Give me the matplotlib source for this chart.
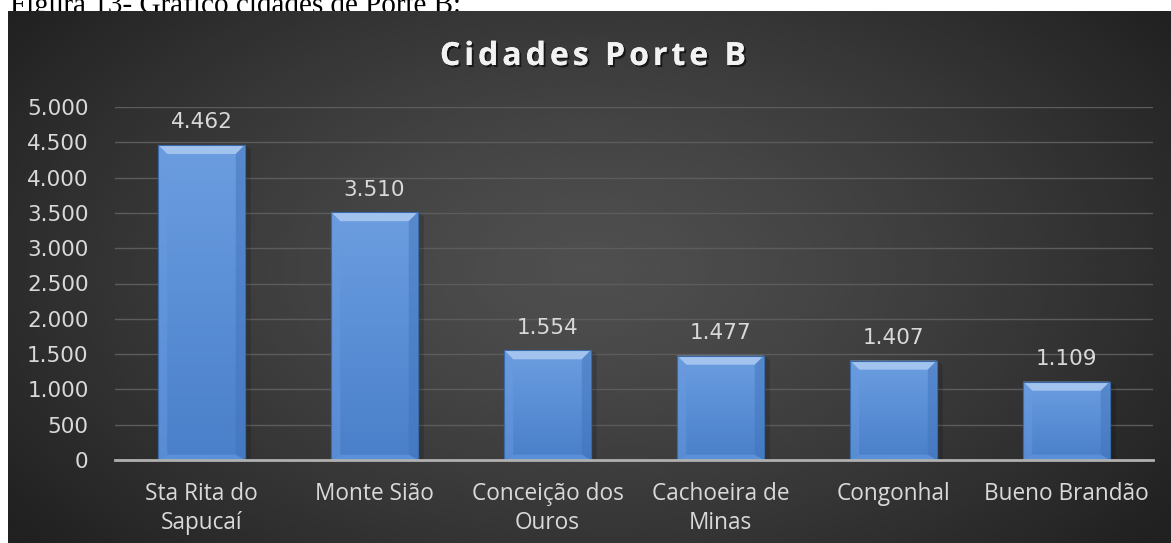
import numpy as np
import matplotlib
matplotlib.use("Agg")
import matplotlib.pyplot as plt
from matplotlib.colors import LinearSegmentedColormap
from matplotlib.patches import Polygon
import matplotlib.patheffects as pe

# ---- data ----
categories = ["Sta Rita do\nSapucaí", "Monte Sião", "Conceição dos\nOuros",
              "Cachoeira de\nMinas", "Congonhal", "Bueno Brandão"]
values = [4462, 3510, 1554, 1477, 1407, 1109]
yticks = [0, 500, 1000, 1500, 2000, 2500, 3000, 3500, 4000, 4500, 5000]
title = "Cidades Porte B"
caption = "Figura 13- Gráfico cidades de Porte B:"

W, H = 1171, 543
fig = plt.figure(figsize=(W / 100, H / 100), dpi=100)
fig.patch.set_facecolor("white")
renderer = fig.canvas.get_renderer()

def fx(px):
    return px / W

def fy(py):
    return 1 - py / H

# caption (partly hidden behind the chart frame, as in the source)
fig.text(fx(10), fy(13), caption, family="Liberation Serif", fontsize=21,
         color="black", va="baseline", ha="left", zorder=-1)

# chart frame with radial dark gradient
bg = fig.add_axes([fx(8), 0, fx(W - 8), (H - 11) / H], zorder=0)
ny, nx = 300, 600
yy, xx = np.mgrid[0:1:ny * 1j, 0:1:nx * 1j]
r = np.sqrt(((xx - 0.5) / 0.62) ** 2 + ((yy - 0.48) / 0.8) ** 2)
r = np.clip(r, 0, 1)
center, edge = 0.31, 0.13
img = center - (center - edge) * r ** 1.3
bg.imshow(img, cmap="gray", vmin=0, vmax=1, aspect="auto",
          extent=[0, 1, 0, 1], interpolation="bicubic")
bg.set_axis_off()

# main plot
ax = fig.add_axes([fx(115), 1 - 460 / H, fx(1153 - 115), (460 - 107) / H], zorder=1)
ax.patch.set_alpha(0)
x = np.arange(len(categories))
bars = ax.bar(x, values, width=0.5, color="#5b8fd6", edgecolor="#3f6fb0",
              linewidth=0.8, zorder=3)
ax.set_xlim(-0.5, len(categories) - 0.5)
ax.set_ylim(0, 5000)
ax.set_yticks(yticks)
ax.set_yticklabels([f"{v:,}".replace(",", ".") for v in yticks],
                   family="DejaVu Sans", fontsize=15.5, color="#d9d9d9")
ax.set_xticks(x)
ax.set_xticklabels(categories, family="Open Sans", fontsize=16.3, color="#d9d9d9",
                   linespacing=1.25)
ax.tick_params(axis="y", length=0, pad=19)
ax.tick_params(axis="x", length=0, pad=16)
for s in ["top", "right", "left"]:
    ax.spines[s].set_visible(False)
ax.spines["bottom"].set_color("#b0b0b0")
ax.spines["bottom"].set_linewidth(2)
ax.spines["bottom"].set_zorder(4)
ax.grid(axis="y", color="#5c5c5c", linewidth=1, zorder=1)
ax.set_axisbelow(True)

# bar gradients and bevels
cmap = LinearSegmentedColormap.from_list("barg", ["#4a80c9", "#5a8fd6", "#6c9de0"])
px_per_x = fig.get_figwidth() * fig.dpi * ax.get_position().width / 6.0
px_per_y = fig.get_figheight() * fig.dpi * ax.get_position().height / 5000.0
bx = 9 / px_per_x
by = 9 / px_per_y
for b in bars:
    x0, y0 = b.get_x(), b.get_y()
    w, h = b.get_width(), b.get_height()
    grad = np.linspace(0, 1, 100).reshape(-1, 1)
    im = ax.imshow(grad, cmap=cmap, aspect="auto", origin="lower",
                   extent=[x0, x0 + w, y0, y0 + h], zorder=3.1)
    im.set_clip_path(b)
    # soft shadow on right
    ax.add_patch(Polygon([[x0 + w, y0], [x0 + w + 6 / px_per_x, y0],
                          [x0 + w + 6 / px_per_x, y0 + h - 4 / px_per_y],
                          [x0 + w, y0 + h]], closed=True,
                         facecolor="black", alpha=0.15, linewidth=0, zorder=2.9))
    top = y0 + h
    ax.add_patch(Polygon([[x0, top], [x0 + w, top], [x0 + w - bx, top - by],
                          [x0 + bx, top - by]], closed=True,
                         facecolor="#a3c3ef", edgecolor="none", zorder=3.3))
    ax.add_patch(Polygon([[x0, top], [x0 + bx, top - by], [x0 + bx, y0 + by * 0.6],
                          [x0, y0]], closed=True,
                         facecolor="#6b9be0", edgecolor="none", alpha=0.45, zorder=3.3))
    ax.add_patch(Polygon([[x0 + w, top], [x0 + w - bx, top - by],
                          [x0 + w - bx, y0 + by * 0.6], [x0 + w, y0]], closed=True,
                         facecolor="#3f71b8", edgecolor="none", alpha=0.45, zorder=3.3))
    ax.add_patch(Polygon([[x0, y0], [x0 + bx, y0 + by * 0.6],
                          [x0 + w - bx, y0 + by * 0.6], [x0 + w, y0]], closed=True,
                         facecolor="#5b8fd8", edgecolor="none", zorder=3.3))
    ax.add_patch(Polygon(b.get_path().vertices[:4] * [w, h] + [x0, y0], closed=True,
                         facecolor="none", edgecolor="#3a69a8", linewidth=0.8,
                         zorder=3.4))
    ax.annotate(f"{int(h):,}".replace(",", "."), (x0 + w / 2, top),
                xytext=(0, 12), textcoords="offset points", ha="center",
                va="baseline", family="DejaVu Sans", fontsize=15.5,
                color="#d9d9d9", zorder=5)

# title with letter spacing (characters placed one by one)
tkw = dict(va="baseline", ha="left", family="Open Sans", fontsize=23,
           fontweight="bold", color="#f2f2f2", zorder=5,
           path_effects=[pe.withSimplePatchShadow(offset=(1.5, -1.5),
                                                  shadow_rgbFace="black", alpha=0.6),
                         pe.Normal()])
spacing = 4.0
widths = []
for ch in title:
    t = fig.text(0, 0, ch, **tkw)
    if ch == " ":
        t2 = fig.text(0, 0, "a a", **tkw)
        t3 = fig.text(0, 0, "aa", **tkw)
        wch = (t2.get_window_extent(renderer).width -
               t3.get_window_extent(renderer).width)
        t2.remove(); t3.remove()
    else:
        wch = t.get_window_extent(renderer).width
    widths.append(wch)
    t.remove()
total = sum(widths) + spacing * (len(title) - 1)
xpos = 593 - total / 2
for ch, wch in zip(title, widths):
    if ch != " ":
        fig.text(fx(xpos), fy(65), ch, **tkw)
    xpos += wch + spacing

fig.savefig("out.png", dpi=100)
